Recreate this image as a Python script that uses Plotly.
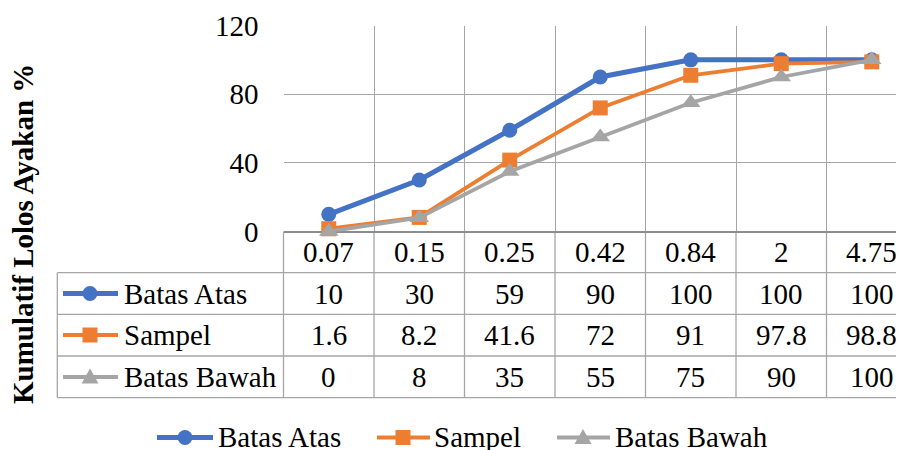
import plotly.graph_objects as go

# ---------------- data ----------------
categories = ["0.07", "0.15", "0.25", "0.42", "0.84", "2", "4.75"]
batas_atas = [10, 30, 59, 90, 100, 100, 100]
sampel = [1.6, 8.2, 41.6, 72, 91, 97.8, 98.8]
batas_bawah = [0, 8, 35, 55, 75, 90, 100]
series_names = ["Batas Atas", "Sampel", "Batas Bawah"]
y_ticks = [0, 40, 80, 120]
y_title = "Kumulatif Lolos Ayakan %"

# ---------------- style / layout ----------------
OFF = 8                      # page body offset of the figure div
W, H = 904 - OFF, 450 - OFF  # figure size
FONT = "Liberation Serif, Tinos, 'Times New Roman', Times, 'Nimbus Roman', 'DejaVu Serif', serif"
FS = 29
COLORS = ["#4472C4", "#ED7D31", "#A5A5A5"]
SYMBOLS = ["circle", "square", "triangle-up"]
LW = [5, 3.8, 3.8]
MS = [15, 15, 17]
GRID = "#A6A6A6"
AXLINE = "#8C8C8C"

# positions measured in screen pixels
PLOT_L, PLOT_T, PLOT_B = 283.5, 25.5, 231.5
COL_W = 90.5
TABLE_L = 57.3
ROW_LINES = [272.7, 314.3, 356.0, 397.7]
CAT_ROW_Y = 252.0
ROW_Y = [293.5, 335.0, 377.0]
KEY_X0, KEY_X1, KEY_MX = 63, 118, 90
LABEL_X = 122
SCREEN_R = 904


def X(px):
    return (px - OFF) / W


def Y(py):
    return 1 - (py - OFF) / H


values = [batas_atas, sampel, batas_bawah]
idx = list(range(len(categories)))

fig = go.Figure()
for name, vals, c, s, lw, ms in zip(series_names, values, COLORS, SYMBOLS, LW, MS):
    fig.add_trace(go.Scatter(
        x=categories, y=vals, name=name, mode="lines+markers",
        line=dict(color=c, width=lw),
        marker=dict(symbol=s, size=ms, color=c, line=dict(width=0)),
        cliponaxis=False, showlegend=False, hoverinfo="skip",
    ))

shapes = []
annotations = []


def hline(y, x0, x1, color=GRID, w=1.3):
    shapes.append(dict(type="line", xref="paper", yref="paper",
                       x0=X(x0), x1=X(x1), y0=Y(y), y1=Y(y),
                       line=dict(color=color, width=w), layer="below"))


def vline(x, y0, y1, color=GRID, w=1.3):
    shapes.append(dict(type="line", xref="paper", yref="paper",
                       x0=X(x), x1=X(x), y0=Y(y0), y1=Y(y1),
                       line=dict(color=color, width=w), layer="below"))


def key(x0, x1, mx, y, k):
    c = COLORS[k]
    shapes.append(dict(type="line", xref="paper", yref="paper",
                       x0=X(x0), x1=X(x1), y0=Y(y), y1=Y(y),
                       line=dict(color=c, width=LW[k]), layer="above"))
    r = MS[k] / 2
    if SYMBOLS[k] == "circle":
        shapes.append(dict(type="circle", xref="paper", yref="paper",
                           x0=X(mx - r), x1=X(mx + r), y0=Y(y - r), y1=Y(y + r),
                           fillcolor=c, line=dict(width=0), layer="above"))
    elif SYMBOLS[k] == "square":
        shapes.append(dict(type="rect", xref="paper", yref="paper",
                           x0=X(mx - r), x1=X(mx + r), y0=Y(y - r), y1=Y(y + r),
                           fillcolor=c, line=dict(width=0), layer="above"))
    else:
        p = "M {} {} L {} {} L {} {} Z".format(
            X(mx - r), Y(y + r * 0.75), X(mx + r), Y(y + r * 0.75), X(mx), Y(y - r))
        shapes.append(dict(type="path", xref="paper", yref="paper", path=p,
                           fillcolor=c, line=dict(width=0), layer="above"))


# table grid
for ry in ROW_LINES:
    hline(ry, TABLE_L, SCREEN_R)
vline(TABLE_L, ROW_LINES[0], ROW_LINES[-1])
for k in idx:
    vline(PLOT_L + k * COL_W, PLOT_B, ROW_LINES[-1])

txt = dict(family=FONT, size=FS, color="black")

# category row
for i, cat in zip(idx, categories):
    annotations.append(dict(x=i, y=Y(CAT_ROW_Y), xref="x", yref="paper",
                            text=cat, showarrow=False, xanchor="center", yanchor="middle",
                            font=txt))

# data rows
for r, (name, vals) in enumerate(zip(series_names, values)):
    key(KEY_X0, KEY_X1, KEY_MX, ROW_Y[r], r)
    annotations.append(dict(x=X(LABEL_X), y=Y(ROW_Y[r]), xref="paper", yref="paper",
                            text=name, showarrow=False, xanchor="left", yanchor="middle",
                            font=txt))
    for i, v in zip(idx, vals):
        annotations.append(dict(x=i, y=Y(ROW_Y[r]), xref="x", yref="paper",
                                text=f"{v:g}", showarrow=False, xanchor="center", yanchor="middle",
                                font=txt))

# bottom legend
LEG_Y = 436.5
leg_items = [(157, 213, 185, 216), (377, 430, 403, 432), (557, 610, 583, 613)]
for k, (x0, x1, mx, tx) in enumerate(leg_items):
    key(x0, x1, mx, 437.5, k)
    annotations.append(dict(x=X(tx), y=Y(LEG_Y), xref="paper", yref="paper",
                            text=series_names[k], showarrow=False, xanchor="left", yanchor="middle",
                            font=txt))

# y-axis title
annotations.append(dict(x=X(23), y=Y(234), xref="paper", yref="paper",
                        text=f"<b>{y_title}</b>", showarrow=False, textangle=-90,
                        xanchor="center", yanchor="middle",
                        font=dict(family=FONT, size=29, color="black")))

fig.update_layout(
    template="none",
    width=W, height=H,
    margin=dict(l=0, r=0, t=0, b=0, pad=0, autoexpand=False),
    paper_bgcolor="white", plot_bgcolor="white",
    showlegend=False,
    font=dict(family=FONT, size=FS, color="black"),
    shapes=shapes, annotations=annotations,
    xaxis=dict(
        type="category", categoryorder="array", categoryarray=categories,
        domain=[X(PLOT_L), 1],
        range=[-0.5, -0.5 + (SCREEN_R - PLOT_L) / COL_W],
        tickson="boundaries", showgrid=True, gridcolor=GRID, gridwidth=1.3,
        showticklabels=False, ticks="", zeroline=False, showline=False,
        automargin=False,
    ),
    yaxis=dict(
        domain=[Y(PLOT_B), Y(PLOT_T)],
        range=[0, 120], tickvals=y_ticks,
        showgrid=True, gridcolor=GRID, gridwidth=1.3,
        zeroline=True, zerolinecolor=AXLINE, zerolinewidth=1.6,
        tickfont=dict(family=FONT, size=FS, color="black"),
        ticks="", ticklabelstandoff=24, showline=False,
        automargin=False,
    ),
)

fig.write_html("out.html")
